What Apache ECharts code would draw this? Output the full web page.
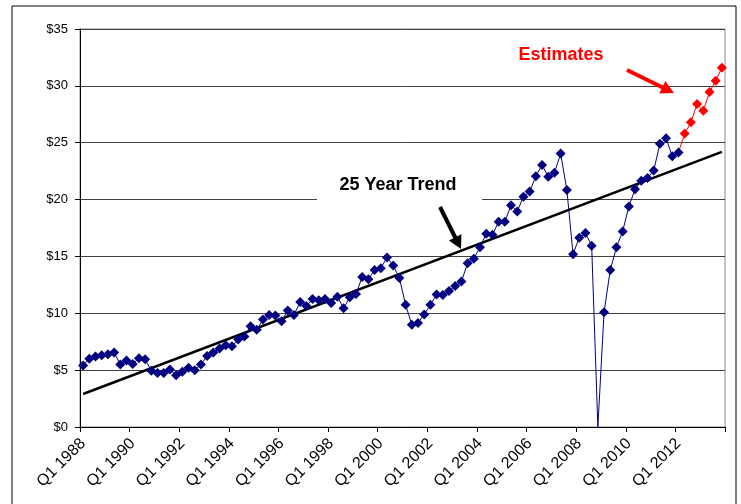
<!DOCTYPE html>
<html>
<head>
<meta charset="utf-8">
<script src="https://cdn.jsdelivr.net/npm/echarts@6/dist/echarts.min.js"></script>
<style>
html,body{margin:0;padding:0;background:#fff;}
#c{width:741px;height:504px;}
</style>
</head>
<body>
<div id="c"></div>
<script>
// ---- data ----
var years = [1988,1989,1990,1991,1992,1993,1994,1995,1996,1997,1998,1999,2000,2001,2002,2003,2004,2005,2006,2007,2008,2009,2010,2011,2012,2013];
var quarters = ['Q1','Q2','Q3','Q4'];
var actual = [
  5.4, 6.0, 6.2, 6.3, 6.4, 6.55, 5.5, 5.85,
  5.55, 6.05, 5.95, 4.95, 4.75, 4.75, 5.05, 4.55,
  4.85, 5.2, 5.0, 5.5, 6.25, 6.55, 6.9, 7.2,
  7.1, 7.7, 7.95, 8.85, 8.55, 9.45, 9.85, 9.8,
  9.3, 10.25, 9.85, 11.0, 10.65, 11.25, 11.15, 11.25,
  10.9, 11.45, 10.45, 11.4, 11.7, 13.2, 13.0, 13.8,
  13.95, 14.9, 14.2, 13.1, 10.75, 9.0, 9.15, 9.9,
  10.75, 11.65, 11.6, 11.95, 12.4, 12.8, 14.4, 14.8,
  15.8, 17.0, 16.9, 18.05, 18.05, 19.5, 18.95, 20.25,
  20.7, 22.05, 23.05, 22.0, 22.35, 24.05, 20.85, 15.2,
  16.65, 17.05, 15.95, 0, 10.1, 13.8, 15.8, 17.2,
  19.4, 20.9, 21.65, 21.9, 22.55, 24.9, 25.4, 23.8,
  24.15
];
var estimates = [25.8, 26.8, 28.4, 27.8, 29.45, 30.45, 31.6];
var trendStart = 2.9;
var trendEnd = 24.2;
var yTicks = [0,5,10,15,20,25,30,35];

// ---- build ----
var categories = [];
years.forEach(function(y){ quarters.forEach(function(q){ categories.push(q + ' ' + y); }); });
var n = categories.length;

var actualData = actual.map(function(v){
  if (v === 0) return {value: v, symbol: 'none'};
  return v;
});
var estData = [];
for (var i = 0; i < n; i++) estData.push(null);
estData[actual.length - 1] = {value: actual[actual.length - 1], symbol: 'none'};
estimates.forEach(function(v, k){ estData[actual.length + k] = v; });
var trendData = [];
for (var j = 0; j < n; j++) trendData.push(null);
trendData[0] = trendStart;
trendData[n - 1] = trendEnd;

var FONT = '"Liberation Sans", Arial, sans-serif';

function arrow(x1, y1, x2, y2, color, w, head, hw) {
  var dx = x2 - x1, dy = y2 - y1, L = Math.sqrt(dx*dx + dy*dy);
  var ux = dx / L, uy = dy / L, nx = -uy, ny = ux;
  var bx = x2 - ux * head, by = y2 - uy * head;
  return [
    {type: 'line', z: 100, shape: {x1: x1, y1: y1, x2: bx + ux, y2: by + uy}, style: {stroke: color, lineWidth: w}},
    {type: 'polygon', z: 100, shape: {points: [[x2, y2], [bx + nx*hw, by + ny*hw], [bx - nx*hw, by - ny*hw]]}, style: {fill: color}}
  ];
}

var chart = echarts.init(document.getElementById('c'), null, {renderer: 'canvas'});
var graphics = [
  {type: 'rect', z: 100, shape: {x: 12, y: 6, width: 724, height: 520}, style: {fill: 'none', stroke: '#000', lineWidth: 1}},
  {type: 'rect', z: 99, shape: {x: 317, y: 172, width: 165, height: 32}, style: {fill: '#fff'}},
  {type: 'text', z: 101, x: 398, y: 185, style: {text: '25 Year Trend', fill: '#000', font: 'bold 18px ' + FONT, textAlign: 'center', textVerticalAlign: 'middle'}},
  {type: 'text', z: 101, x: 561, y: 55, style: {text: 'Estimates', fill: '#ff0000', font: 'bold 18px ' + FONT, textAlign: 'center', textVerticalAlign: 'middle'}}
].concat(arrow(440, 207, 461, 249, '#000', 4, 13, 7))
 .concat(arrow(627, 70, 674, 93, '#ff0000', 4, 13, 7));

chart.setOption({
  animation: false,
  backgroundColor: '#fff',
  textStyle: {fontFamily: FONT},
  grid: {left: 80, right: 16, top: 29, bottom: 77, show: true, borderColor: '#888', borderWidth: 1, backgroundColor: 'transparent'},
  xAxis: {
    type: 'category',
    data: categories,
    boundaryGap: true,
    axisLine: {lineStyle: {color: '#000', width: 1}},
    axisTick: {show: true, interval: 7, length: 5, inside: false, lineStyle: {color: '#000'}},
    axisLabel: {interval: 7, rotate: 45, color: '#000', fontSize: 16, fontFamily: FONT, margin: 14},
    splitLine: {show: false}
  },
  yAxis: {
    type: 'value',
    min: yTicks[0], max: yTicks[yTicks.length - 1], interval: yTicks[1] - yTicks[0],
    axisLine: {show: true, lineStyle: {color: '#000', width: 1}},
    axisTick: {show: true, length: 5, lineStyle: {color: '#000'}},
    axisLabel: {color: '#000', fontSize: 13, fontFamily: FONT, margin: 12, formatter: function(v){ return '$' + v; }},
    splitLine: {show: true, lineStyle: {color: '#404040', width: 1}}
  },
  series: [
    {
      name: 'Trend', type: 'line', data: trendData, connectNulls: true,
      symbol: 'none', lineStyle: {color: '#000', width: 2.5}, z: 3, silent: true
    },
    {
      name: 'Estimates', type: 'line', data: estData, showAllSymbol: true,
      symbol: 'diamond', symbolSize: 10,
      itemStyle: {color: '#ff0000'}, lineStyle: {color: '#ff0000', width: 1}, z: 4
    },
    {
      name: 'Actual', type: 'line', data: actualData, showAllSymbol: true,
      symbol: 'diamond', symbolSize: 10,
      itemStyle: {color: '#000080'}, lineStyle: {color: '#000080', width: 1}, z: 5
    }
  ],
  graphic: graphics
});
</script>
</body>
</html>
